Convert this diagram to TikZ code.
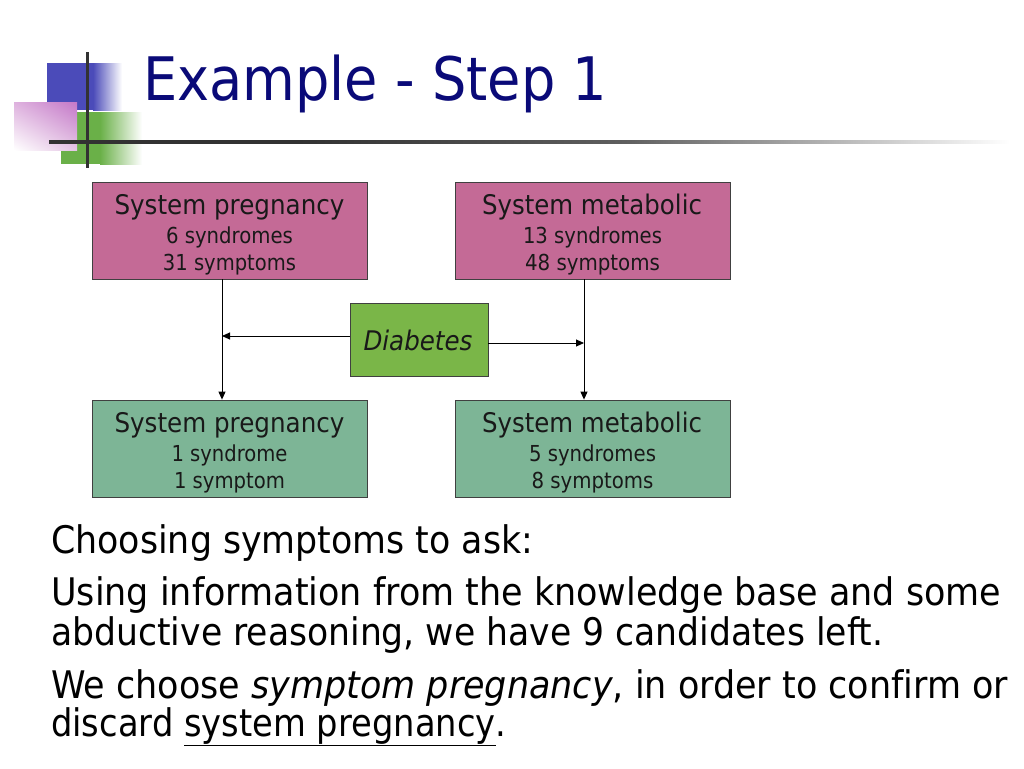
\documentclass[tikz,border=0pt]{standalone}
\usepackage{fontspec}
\setmainfont{DejaVu Sans}[Ligatures=NoCommon]
\usetikzlibrary{arrows.meta,calc,shadings}
\definecolor{pinkbox}{RGB}{196,106,150}
\definecolor{greenbox}{RGB}{125,181,150}
\definecolor{diabgreen}{RGB}{122,182,72}
\definecolor{titleblue}{RGB}{10,10,120}
\definecolor{sqblue}{RGB}{75,75,185}
\definecolor{sqgreen}{RGB}{106,176,72}
\definecolor{sqpink}{RGB}{196,120,200}
\definecolor{sqpinkA}{RGB}{222,178,222}
\definecolor{sqpinkB}{RGB}{228,196,228}
\definecolor{rulegray}{RGB}{50,50,50}
\definecolor{rulemid}{RGB}{95,95,95}
\pgfdeclarehorizontalshading{rulefade}{100bp}{color(0bp)=(rulegray); color(25bp)=(rulegray); color(38bp)=(rulegray); color(55bp)=(rulemid); color(75bp)=(white); color(100bp)=(white)}
\newcommand{\fw}[2]{\resizebox{#1pt}{\height}{#2}}
\begin{document}
\begin{tikzpicture}[x=1pt,y=-1pt,
  box/.style={draw=black!75, line width=0.8pt, inner sep=0pt, minimum width=275pt, minimum height=97pt},
  bigtxt/.style={anchor=base, inner sep=0pt, text=black!90, font=\fontsize{27}{30}\selectfont},
  smalltxt/.style={anchor=base, inner sep=0pt, text=black!90, font=\fontsize{22}{25}\selectfont},
  arr/.style={draw=black, line width=0.9pt, -{Triangle[length=8pt,width=7pt]}},
  body/.style={anchor=base west, inner sep=0pt, font=\fontsize{38}{42}\selectfont}
]
\useasboundingbox (0,0) rectangle (1024,768);
\fill[white] (0,0) rectangle (1024,768);

% header decoration
\fill[sqblue] (47,63) rectangle (93,110);
\shade[left color=sqblue, right color=white] (93,63) rectangle (122,110);
\fill[sqgreen] (61,112) rectangle (100,164);
\shade[left color=sqgreen, right color=white] (100,112) rectangle (142,164);
\shade[upper left=sqpinkA, upper right=sqpink, lower right=sqpinkB, lower left=white] (14,102) rectangle (77,150);
\shade[shading=rulefade] (49,140.5) rectangle (1010,143.5);
\fill[rulegray] (85.5,52) rectangle (88.5,168);

% title
\node[anchor=base west, inner sep=0pt, text=titleblue, font=\fontsize{60}{66}\selectfont] (title) at (143,100) {\fw{464}{Example - Step 1}};

% boxes
\node[box, fill=pinkbox] (tl) at (229.5,230.5) {};
\node[box, fill=pinkbox] (tr) at (592.5,230.5) {};
\node[box, fill=greenbox] (bl) at (229.5,448.5) {};
\node[box, fill=greenbox] (br) at (592.5,448.5) {};
\node[draw=black!75, line width=0.8pt, fill=diabgreen, minimum width=138pt, minimum height=73pt, inner sep=0pt] (diab) at (419,339.5) {};

\node[bigtxt] (tl1) at (229.5,214) {\fw{230}{System pregnancy}};
\node[smalltxt] (tl2) at (229.5,243) {\fw{127}{6 syndromes}};
\node[smalltxt] (tl3) at (229.5,270) {\fw{133}{31 symptoms}};
\node[bigtxt] (tr1) at (592,214) {\fw{220}{System metabolic}};
\node[smalltxt] (tr2) at (592.5,243) {\fw{139}{13 syndromes}};
\node[smalltxt] (tr3) at (592.5,270) {\fw{135}{48 symptoms}};
\node[bigtxt] (bl1) at (229.5,432) {\fw{230}{System pregnancy}};
\node[smalltxt] (bl2) at (229.5,461) {\fw{116}{1 syndrome}};
\node[smalltxt] (bl3) at (229.5,488) {\fw{111}{1 symptom}};
\node[bigtxt] (br1) at (592,432) {\fw{220}{System metabolic}};
\node[smalltxt] (br2) at (592.5,461) {\fw{127}{5 syndromes}};
\node[smalltxt] (br3) at (592.5,488) {\fw{122}{8 symptoms}};
\node[anchor=base, inner sep=0pt, text=black!90, font=\fontsize{27}{30}\selectfont\itshape] (diabt) at (418,350) {\fw{109}{Diabetes}};

% connectors
\coordinate (lx) at (222,0);
\coordinate (rx) at (584,0);
\draw[arr] (tl.south -| lx) -- (bl.north -| lx);
\draw[arr] (tr.south -| rx) -- (br.north -| rx);
\draw[arr] ([yshift=3.5pt]diab.west) -- ([yshift=3.5pt]diab.west -| lx);
\draw[arr] ([yshift=-3.5pt]diab.east) -- ([yshift=-3.5pt]diab.east -| rx);

% body text
\node[body] (l1) at (51,553) {\fw{482}{Choosing symptoms to ask:}};
\node[body] (l2) at (51,605) {\fw{950}{Using information from the knowledge base and some}};
\node[body] (l3) at (51,645) {\fw{832}{abductive reasoning, we have 9 candidates left.}};
\node[body] (l4) at (51,698) {\fw{957}{We choose \textit{symptom pregnancy}, in order to confirm or}};
\node[body] (l5) at (51,736) {\fw{455}{discard \underline{system pregnancy}.}};
\end{tikzpicture}
\end{document}
